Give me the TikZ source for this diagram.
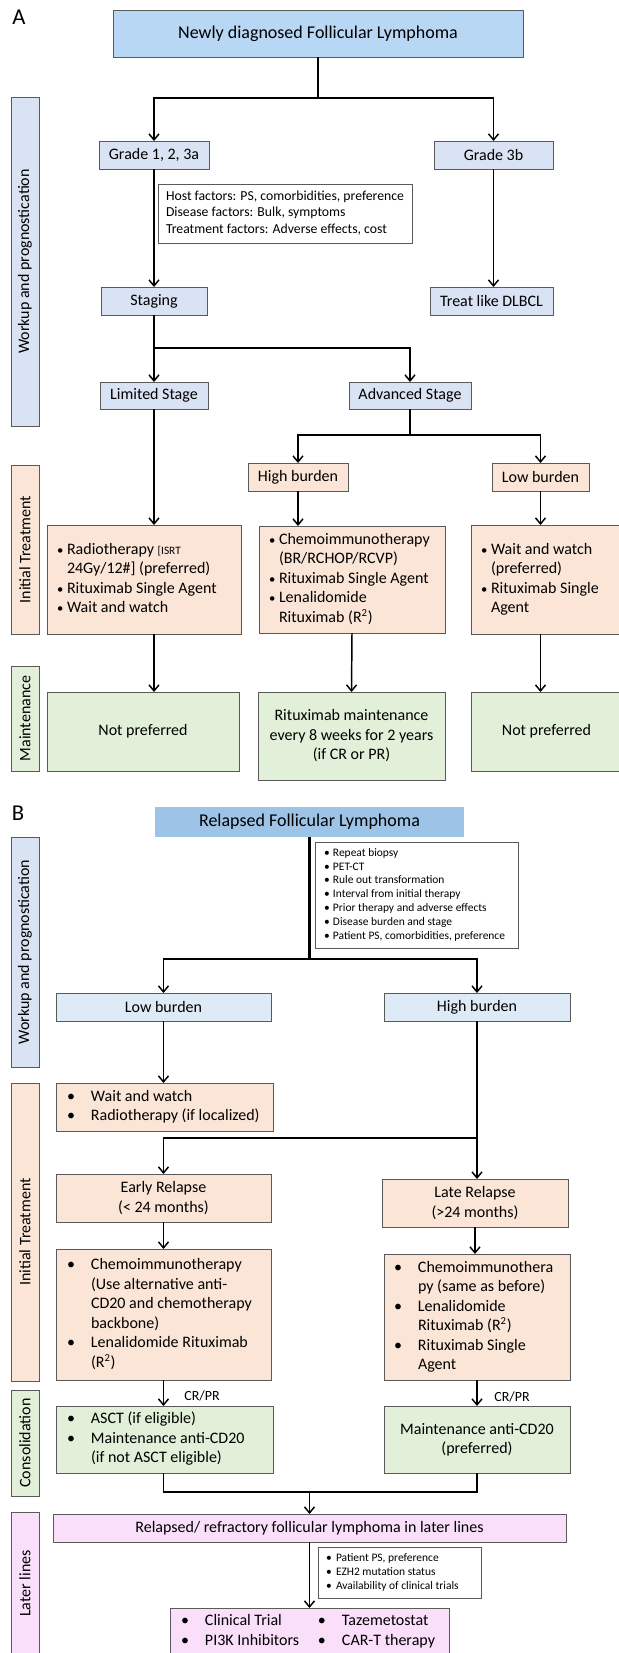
\documentclass[tikz,border=0pt]{standalone}
\usepackage{fontspec}
\setmainfont{Carlito}
\usetikzlibrary{arrows.meta}
\definecolor{cTA}{HTML}{B7D7F4}
\definecolor{cTB}{HTML}{9DC3E6}
\definecolor{cGr}{HTML}{DAE3F3}
\definecolor{cLB}{HTML}{DEEBF7}
\definecolor{cPe}{HTML}{FBE5D6}
\definecolor{cGn}{HTML}{E2F0D9}
\definecolor{cPk}{HTML}{FADFFA}
\definecolor{cBd}{HTML}{5A5A5A}

\newcommand\mkbox[7]{%
 \pgfmathsetmacro\bw{((#5)-(#3))*0.75}%
 \pgfmathsetmacro\bh{((#6)-(#4))*0.75}%
 \node[minimum width=\bw pt, minimum height=\bh pt, #2] (#1) at ({((#3)+(#5))/2},{((#4)+(#6))/2}) {#7};}
\newcommand\mklist[8]{%
 \pgfmathsetmacro\bw{((#5)-(#3))*0.75}%
 \pgfmathsetmacro\bh{((#6)-(#4))*0.75}%
 \pgfmathsetmacro\tw{((#5)-(#3)-2*(#7))*0.75}%
 \node[minimum width=\bw pt, minimum height=\bh pt, #2] (#1) at ({((#3)+(#5))/2},{((#4)+(#6))/2}) {\makebox[\tw pt][l]{\begin{tabular}{@{}l@{}}#8\end{tabular}}};}
\newcommand\mkside[7]{%
 \pgfmathsetmacro\bw{((#5)-(#3))*0.75}%
 \pgfmathsetmacro\bh{((#6)-(#4))*0.75}%
 \node[box, fill=#2, rotate=90, minimum width=\bh pt, minimum height=\bw pt] (#1) at ({((#3)+(#5))/2},{((#4)+(#6))/2}) {#7};}
\newcommand\bul[1]{\makebox[#1][l]{•}}
\newcommand\sbul[1]{\makebox[#1][l]{{\fontsize{9.5}{10}\selectfont•}}}

\begin{document}
\begin{tikzpicture}[x=0.75pt,y=-0.75pt,
  box/.style={draw=cBd, line width=0.6pt, inner sep=0pt, outer sep=0pt, font=\fontsize{12}{14.6}\selectfont, align=center},
  ttl/.style={font=\fontsize{13.5}{16}\selectfont},
  small/.style={font=\fontsize{8.6}{10.4}\selectfont},
  conn/.style={line width=1.1pt, black},
  arr/.style={conn, -{Straight Barb[length=4.5pt,width=7.5pt]}},
  lbl/.style={inner sep=0pt, font=\fontsize{17}{20}\selectfont},
  crl/.style={inner sep=0pt, font=\fontsize{10.5}{12}\selectfont}]
\useasboundingbox (0,0) rectangle (618,1653);

% ================= Panel A =================
\node[lbl] (labA) at (19,17.5) {A};
\mkbox{tA}{box, ttl, fill=cTA}{113}{10}{523}{57}{Newly diagnosed Follicular Lymphoma}
\mkbox{g1}{box, fill=cGr}{99}{141}{209}{169}{Grade 1, 2, 3a}
\mkbox{g3}{box, fill=cGr}{434}{141}{553}{169}{Grade 3b}
\mklist{hf}{box, fill=white, font=\fontsize{10.3}{12.5}\selectfont}{158}{184}{412}{243}{8}{Host factors: PS, comorbidities, preference\\Disease factors: Bulk, symptoms\\Treatment factors: Adverse effects, cost}
\mkbox{stg}{box, fill=cGr}{101}{287}{207}{315}{Staging}
\mkbox{dl}{box, fill=cGr}{430}{287}{553}{315}{Treat like DLBCL}
\mkbox{lim}{box, fill=cGr}{100}{382}{208}{409}{Limited Stage}
\mkbox{adv}{box, fill=cGr}{349}{382}{471}{409}{Advanced Stage}
\mkbox{hb}{box, fill=cPe}{248}{463}{348}{491}{High burden}
\mkbox{lb}{box, fill=cPe}{492}{463}{589}{491}{Low burden}
\mklist{ita}{box, fill=cPe}{47}{525}{241}{634}{10}{\sbul{7.5pt}Radiotherapy {\fontsize{8.5}{10}\selectfont[ISRT}\\\hspace*{7.5pt}24Gy/12\#] (preferred)\\\sbul{7.5pt}Rituximab Single Agent\\\sbul{7.5pt}Wait and watch}
\mklist{itb}{box, fill=cPe}{259}{526}{445}{633}{10}{\sbul{7.5pt}Chemoimmunotherapy\\\hspace*{7.5pt}(BR/RCHOP/RCVP)\\\sbul{7.5pt}Rituximab Single Agent\\\sbul{7.5pt}Lenalidomide\\\hspace*{7.5pt}Rituximab (R\textsuperscript{2})}
\mklist{itc}{box, fill=cPe}{471}{525}{622}{634}{10}{\sbul{7.5pt}Wait and watch\\\hspace*{7.5pt}(preferred)\\\sbul{7.5pt}Rituximab Single\\\hspace*{7.5pt}Agent}
\mkbox{ma}{box, fill=cGn}{47}{692}{239}{771}{Not preferred}
\mkbox{mb}{box, fill=cGn}{258}{692}{445}{780}{Rituximab maintenance\\every 8 weeks for 2 years\\(if CR or PR)}
\mkbox{mc}{box, fill=cGn}{471}{692}{622}{771}{Not preferred}

\mkside{sA1}{cGr}{11}{97}{39}{426}{Workup and prognostication}
\mkside{sA2}{cPe}{11}{465}{39}{634}{Initial Treatment}
\mkside{sA3}{cGn}{11}{666}{39}{771}{Maintenance}

\coordinate (jA1) at (318,98);
\draw[conn] (tA.south) -- (jA1);
\draw[arr] (jA1) -| (g1.north);
\draw[arr] (jA1) -| (g3.north);
\draw[arr] (g1.south) -- (g1.south |- stg.north);
\draw[arr] (g3.south) -- (g3.south |- dl.north);
\coordinate (jA2) at (154,348);
\draw[conn] (stg.south) -- (jA2);
\draw[arr] (jA2) -- (jA2 |- lim.north);
\draw[arr] (jA2) -| (adv.north);
\coordinate (jA3) at (410,435);
\draw[conn] (adv.south) -- (jA3);
\draw[arr] (jA3) -| (hb.north);
\draw[arr] (jA3) -| (lb.north);
\draw[arr] (lim.south) -- (lim.south |- ita.north);
\draw[arr] (hb.south) -- (hb.south |- itb.north);
\draw[arr] (lb.south) -- (lb.south |- itc.north);
\draw[arr] (ita.south -| lim.south) -- (ma.north -| lim.south);
\draw[arr] (itb.south) -- (mb.north);
\draw[arr] (itc.south -| lb.south) -- (mc.north -| lb.south);

% ================= Panel B =================
\node[lbl] (labB) at (18,813.5) {B};
\mkbox{tB}{box, ttl, draw=none, fill=cTB}{155}{807}{464}{837}{Relapsed Follicular Lymphoma}
\mklist{wk}{box, small, fill=white}{315}{842}{518}{948}{9}{\bul{6.75pt}Repeat biopsy\\\bul{6.75pt}PET-CT\\\bul{6.75pt}Rule out transformation\\\bul{6.75pt}Interval from initial therapy\\\bul{6.75pt}Prior therapy and adverse effects\\\bul{6.75pt}Disease burden and stage\\\bul{6.75pt}Patient PS, comorbidities, preference}
\mkbox{blb}{box, fill=cLB}{56}{993}{271}{1021}{Low burden}
\mkbox{bhb}{box, fill=cLB}{384}{993}{570}{1021}{High burden}
\mklist{ww}{box, fill=cPe}{56}{1083}{273}{1131}{11}{\bul{18pt}Wait and watch\\\bul{18pt}Radiotherapy (if localized)}
\mkbox{er}{box, fill=cPe}{56}{1174}{271}{1222}{Early Relapse\\(< 24 months)}
\mkbox{lr}{box, fill=cPe}{382}{1179}{568}{1227}{Late Relapse\\(>24 months)}
\mklist{ec}{box, fill=cPe}{56}{1249}{271}{1380}{11}{\bul{18pt}Chemoimmunotherapy\\\hspace*{18pt}(Use alternative anti-\\\hspace*{18pt}CD20 and chemotherapy\\\hspace*{18pt}backbone)\\\bul{18pt}Lenalidomide Rituximab\\\hspace*{18pt}(R\textsuperscript{2})}
\mklist{lc}{box, fill=cPe}{384}{1254}{570}{1380}{10}{\bul{18pt}Chemoimmunothera\\\hspace*{18pt}py (same as before)\\\bul{18pt}Lenalidomide\\\hspace*{18pt}Rituximab (R\textsuperscript{2})\\\bul{18pt}Rituximab Single\\\hspace*{18pt}Agent}
\mklist{as}{box, fill=cGn}{56}{1406}{273}{1473}{11}{\bul{18pt}ASCT (if eligible)\\\bul{18pt}Maintenance anti-CD20\\\hspace*{18pt}(if not ASCT eligible)}
\mkbox{mac}{box, fill=cGn}{384}{1406}{570}{1473}{Maintenance anti-CD20\\(preferred)}
\mkbox{rr}{box, fill=cPk}{53}{1514}{566}{1542}{Relapsed/ refractory follicular lymphoma in later lines}
\mklist{crit}{box, small, fill=white}{318}{1547}{481}{1598}{8}{\bul{7.5pt}Patient PS, preference\\\bul{7.5pt}EZH2 mutation status\\\bul{7.5pt}Availability of clinical trials}
\mklist{fin}{box, fill=cPk}{170}{1608}{449}{1655}{11}{\bul{18pt}\makebox[84.75pt][l]{Clinical Trial}\bul{18pt}Tazemetostat\\\bul{18pt}\makebox[84.75pt][l]{PI3K Inhibitors}\bul{18pt}CAR-T therapy}

\mkside{sB1}{cGr}{11}{837}{39}{1067}{Workup and prognostication}
\mkside{sB2}{cPe}{11}{1083}{39}{1381}{Initial Treatment}
\mkside{sB3}{cGn}{11}{1390}{39}{1496}{Consolidation}
\mkside{sB4}{cPk}{11}{1512}{39}{1655}{Later lines}

\coordinate (jB1) at (309.5,959);
\draw[line width=2pt] (tB.south) -- (jB1);
\draw[arr] (jB1) -| (blb.north);
\draw[arr] (jB1) -| (bhb.north);
\draw[arr] (blb.south) -- (blb.south |- ww.north);
\coordinate (jB2) at (477,1138);
\draw[conn] (bhb.south) -- (jB2);
\draw[arr] (jB2) -- (jB2 |- lr.north);
\draw[arr] (jB2) -| (er.north);
\draw[arr] (er.south) -- (er.south |- ec.north);
\draw[arr] (lr.south) -- (lr.south |- lc.north);
\draw[arr] (ec.south -| er.south) -- (as.north -| er.south);
\draw[arr] (lc.south) -- (lc.south |- mac.north);
\node[crl] (cr1) at (202,1396) {CR/PR};
\node[crl] (cr2) at (512,1397) {CR/PR};
\coordinate (jB3) at (309.5,1492);
\draw[conn] (as.south -| blb.south) -- (blb.south |- jB3) -- (bhb.south |- jB3) -- (mac.south -| bhb.south);
\draw[arr] (jB3) -- (rr.north);
\draw[arr] (rr.south) -- (fin.north);
\end{tikzpicture}
\end{document}
